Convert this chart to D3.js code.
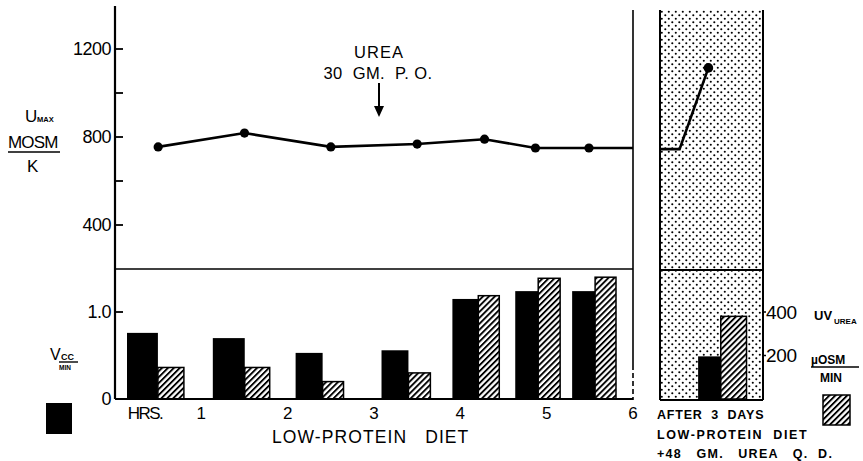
<!DOCTYPE html>
<html><head><meta charset="utf-8">
<script src="https://cdn.jsdelivr.net/npm/d3@7"></script>
<style>
body{margin:0;background:#fff;}
svg{display:block;font-family:"Liberation Sans",Arial,sans-serif;}
</style></head>
<body><svg id="c" width="863" height="461"></svg>
<script>
// ---- data ----
const hourTicks = [0,1,2,3,4,5,6];
const hourLabels = ["HRS.","1","2","3","4","5","6"];
const umaxTicks = [400,600,800,1000,1200];
const umaxTickLabels = {400:"400",800:"800",1200:"1200"};
const vccTicks = [0,1.0];
const vccTickLabels = ["0","1.0"];
const uvTicks = [200,400];
// U max (mOsm/kg) during low-protein diet, by hour
const umaxTimes = [0.5,1.5,2.5,3.5,4.28,4.87,5.49,6.0];
const umaxValues = [755,818,755,768,790,750,750,750];
const umaxMarked = [true,true,true,true,true,true,true,false];
// collection periods (hours): start, split, end
const periodStart = [0.139,1.133,2.092,3.087,3.908,4.636,5.295];
const periodSplit = [0.497,1.503,2.405,3.399,4.208,4.902,5.561];
const periodEnd   = [0.798,1.792,2.647,3.653,4.451,5.156,5.803];
const vccValues = [0.76,0.70,0.53,0.56,1.15,1.24,1.24];
const uvValues  = [145,145,80,120,475,555,560];
// after 3 days + urea panel (relative position 0..1 within panel)
const afterLineX = [0,0.19,0.47];
const afterLineV = [745,745,1114];
const afterBarPos = [0.37,0.59,0.84];
const afterVcc = 0.49;
const afterUv = 380;

// ---- scales ----
const svg = d3.select("#c");
const x = d3.scaleLinear().domain([0,6]).range([115,633]);
const xr = d3.scaleLinear().domain([0,1]).range([660,763]);
const yU = d3.scaleLinear().domain([200,1400]).range([269,5]);
const yV = d3.scaleLinear().domain([0,1.5]).range([399,268.5]);
const yUV = d3.scaleLinear().domain([0,600]).range([399,268.5]);

// patterns
const defs = svg.append("defs");
const hp = defs.append("pattern").attr("id","hatch").attr("patternUnits","userSpaceOnUse")
  .attr("width",4.2).attr("height",4.2).attr("patternTransform","rotate(45)");
hp.append("rect").attr("width",4.2).attr("height",4.2).attr("fill","#fff");
hp.append("rect").attr("x",0).attr("width",1.9).attr("height",4.2).attr("fill","#000");
const dp = defs.append("pattern").attr("id","dots").attr("patternUnits","userSpaceOnUse")
  .attr("width",7).attr("height",7).attr("x",660).attr("y",10);
dp.append("rect").attr("width",7).attr("height",7).attr("fill","#fff");
dp.append("circle").attr("cx",1.8).attr("cy",1.8).attr("r",1.05).attr("fill","#000");
dp.append("circle").attr("cx",5.3).attr("cy",5.3).attr("r",1.05).attr("fill","#000");

// ---- right panel background ----
svg.append("rect").attr("x",xr(0)).attr("y",10).attr("width",xr(1)-xr(0)).attr("height",yV(0)+1-10)
  .attr("fill","url(#dots)");
svg.append("line").attr("x1",xr(0)).attr("x2",xr(0)).attr("y1",10).attr("y2",yV(0)+1).attr("stroke","#000").attr("stroke-width",2);
svg.append("line").attr("x1",xr(1)).attr("x2",xr(1)).attr("y1",10).attr("y2",yV(0)+1).attr("stroke","#000").attr("stroke-width",2);
svg.append("line").attr("x1",xr(0)).attr("x2",xr(1)).attr("y1",yV(0)+1).attr("y2",yV(0)+1).attr("stroke","#000").attr("stroke-width",2);
svg.append("line").attr("x1",xr(0)).attr("x2",xr(1)).attr("y1",270).attr("y2",270).attr("stroke","#000").attr("stroke-width",1.8);

// ---- left panel frame ----
svg.append("line").attr("x1",x(0)).attr("x2",x(0)).attr("y1",6).attr("y2",yV(0)).attr("stroke","#000").attr("stroke-width",2.2);
svg.append("line").attr("x1",x(6)).attr("x2",x(6)).attr("y1",10).attr("y2",365).attr("stroke","#000").attr("stroke-width",1.6);
svg.append("line").attr("x1",x(6)).attr("x2",x(6)).attr("y1",365).attr("y2",yV(0)+1).attr("stroke","#000").attr("stroke-width",1.6).attr("stroke-dasharray","5,3");
svg.append("line").attr("x1",x(0)).attr("x2",x(6)).attr("y1",269).attr("y2",269).attr("stroke","#000").attr("stroke-width",1.6);

// upper axis
const gU = svg.append("g");
gU.selectAll("line.t").data(umaxTicks).join("line").attr("x1",x(0)).attr("x2",x(0)+8)
  .attr("y1",d=>yU(d)).attr("y2",d=>yU(d)).attr("stroke","#000").attr("stroke-width",1.8);
gU.selectAll("text").data(umaxTicks.filter(d=>umaxTickLabels[d])).join("text")
  .attr("x",x(0)-4).attr("y",d=>yU(d)).attr("dy","0.36em").attr("text-anchor","end")
  .attr("font-size",18).attr("letter-spacing",-0.5).text(d=>umaxTickLabels[d]);

// lower axis
svg.selectAll("line.vt").data(vccTicks).join("line").attr("x1",x(0)).attr("x2",x(0)+8)
  .attr("y1",d=>yV(d)).attr("y2",d=>yV(d)).attr("stroke","#000").attr("stroke-width",1.8);
svg.selectAll("text.vt").data(vccTicks).join("text").attr("class","vt")
  .attr("x",x(0)-4).attr("y",d=>yV(d)).attr("dy","0.36em").attr("text-anchor","end")
  .attr("font-size",18).attr("letter-spacing",-0.5).text((d,i)=>vccTickLabels[i]);

// bars
const bars = svg.append("g");
bars.selectAll("rect.b").data(vccValues).join("rect")
  .attr("x",(d,i)=>x(periodStart[i])).attr("width",(d,i)=>x(periodSplit[i])-x(periodStart[i]))
  .attr("y",d=>yV(d)).attr("height",d=>yV(0)-yV(d)).attr("fill","#000");
bars.selectAll("rect.h").data(uvValues).join("rect").attr("class","h")
  .attr("x",(d,i)=>x(periodSplit[i])).attr("width",(d,i)=>x(periodEnd[i])-x(periodSplit[i]))
  .attr("y",d=>yUV(d)).attr("height",d=>yUV(0)-yUV(d)).attr("fill","url(#hatch)")
  .attr("stroke","#000").attr("stroke-width",1.5);
// baseline
svg.append("line").attr("x1",x(0)).attr("x2",x(6)).attr("y1",yV(0)).attr("y2",yV(0)).attr("stroke","#000").attr("stroke-width",2);

// x labels
svg.selectAll("text.xl").data(hourTicks).join("text").attr("class","xl")
  .attr("x",d=>d===0?x(0)+30:x(d)).attr("y",yV(0)+20).attr("text-anchor","middle")
  .attr("font-size",17).attr("letter-spacing",(d)=>d===0?-1.5:0).text((d,i)=>hourLabels[i]);
svg.append("text").attr("x",272).attr("y",443).attr("font-size",17.5).attr("letter-spacing",1.1)
  .attr("xml:space","preserve").text("LOW-PROTEIN   DIET");

// line upper
const line = d3.line().x((d,i)=>x(umaxTimes[i])).y(d=>yU(d));
svg.append("path").attr("d",line(umaxValues)).attr("fill","none").attr("stroke","#000").attr("stroke-width",2.6);
svg.selectAll("circle.p").data(umaxValues.filter((d,i)=>umaxMarked[i])).join("circle")
  .attr("cx",(d,i)=>x(umaxTimes[i])).attr("cy",d=>yU(d)).attr("r",4.6).attr("fill","#000");

// right panel content
const lineR = d3.line().x((d,i)=>xr(afterLineX[i])).y(d=>yU(d));
svg.append("path").attr("d",lineR(afterLineV)).attr("fill","none").attr("stroke","#000").attr("stroke-width",2.6);
svg.append("circle").attr("cx",xr(afterLineX[2])).attr("cy",yU(afterLineV[2])).attr("r",4.8).attr("fill","#000");
svg.append("rect").attr("x",xr(afterBarPos[0])).attr("width",xr(afterBarPos[1])-xr(afterBarPos[0]))
  .attr("y",yV(afterVcc)).attr("height",yV(0)-yV(afterVcc)).attr("fill","#000");
svg.append("rect").attr("x",xr(afterBarPos[1])).attr("width",xr(afterBarPos[2])-xr(afterBarPos[1]))
  .attr("y",yUV(afterUv)).attr("height",yUV(0)-yUV(afterUv)).attr("fill","url(#hatch)")
  .attr("stroke","#000").attr("stroke-width",1.5);

// right axis ticks/labels
svg.selectAll("line.ut").data(uvTicks).join("line").attr("x1",xr(1)).attr("x2",xr(1)+3)
  .attr("y1",d=>yUV(d)).attr("y2",d=>yUV(d)).attr("stroke","#000").attr("stroke-width",1.5);
svg.selectAll("text.ut").data(uvTicks).join("text").attr("class","ut")
  .attr("x",xr(1)+3).attr("y",d=>yUV(d)).attr("dy","0.36em").attr("font-size",19).attr("letter-spacing",-0.3).text(d=>d);

// UREA annotation
svg.append("text").attr("x",379).attr("y",58).attr("text-anchor","middle").attr("font-size",16.5).attr("letter-spacing",1).text("UREA");
svg.append("text").attr("x",378).attr("y",79).attr("text-anchor","middle").attr("font-size",16.5).attr("letter-spacing",0.4).attr("xml:space","preserve").text("30  GM.  P. O.");
svg.append("line").attr("x1",379).attr("x2",379).attr("y1",83).attr("y2",110).attr("stroke","#000").attr("stroke-width",2);
svg.append("path").attr("d","M374,106 L384,106 L379,117 Z").attr("fill","#000");

// left y labels
svg.append("text").attr("x",25).attr("y",122).attr("font-size",17).text("U");
svg.append("text").attr("x",37).attr("y",122).attr("font-size",7.5).attr("font-weight","bold").text("MAX");
svg.append("text").attr("x",8).attr("y",148).attr("font-size",17).attr("letter-spacing",-0.8).text("MOSM");
svg.append("line").attr("x1",8).attr("x2",60).attr("y1",152).attr("y2",152).attr("stroke","#000").attr("stroke-width",1.6);
svg.append("text").attr("x",27).attr("y",172).attr("font-size",17).text("K");

svg.append("text").attr("x",50).attr("y",360).attr("font-size",16).text("V");
svg.append("text").attr("x",61).attr("y",360).attr("font-size",9).attr("font-weight","bold").text("CC");
svg.append("line").attr("x1",59).attr("x2",78).attr("y1",362).attr("y2",362).attr("stroke","#000").attr("stroke-width",1.4);
svg.append("text").attr("x",59).attr("y",370).attr("font-size",6.5).attr("font-weight","bold").text("MIN");
svg.append("rect").attr("x",46).attr("y",403).attr("width",26).attr("height",31).attr("fill","#000");

// right labels
svg.append("text").attr("x",814).attr("y",320).attr("font-size",13).attr("font-weight","bold").text("UV");
svg.append("text").attr("x",834).attr("y",324).attr("font-size",8).attr("font-weight","bold").text("UREA");
svg.append("text").attr("x",811).attr("y",364).attr("font-size",12).attr("font-weight","bold").text("µOSM");
svg.append("line").attr("x1",811).attr("x2",859).attr("y1",367).attr("y2",367).attr("stroke","#000").attr("stroke-width",1.4);
svg.append("text").attr("x",820).attr("y",382).attr("font-size",12).attr("font-weight","bold").text("MIN");
svg.append("rect").attr("x",823).attr("y",395).attr("width",27).attr("height",30).attr("fill","url(#hatch)")
  .attr("stroke","#000").attr("stroke-width",1.5);

// after-3-days caption
const cap = ["AFTER  3  DAYS","LOW-PROTEIN  DIET","+48   GM.   UREA   Q.  D."];
const capSpacing = [0.8,1.6,1.3];
svg.selectAll("text.cap").data(cap).join("text").attr("class","cap")
  .attr("x",657).attr("y",(d,i)=>419+i*19.5).attr("font-size",12.5).attr("font-weight","bold")
  .attr("letter-spacing",(d,i)=>capSpacing[i]).attr("xml:space","preserve").text(d=>d);
</script></body></html>
